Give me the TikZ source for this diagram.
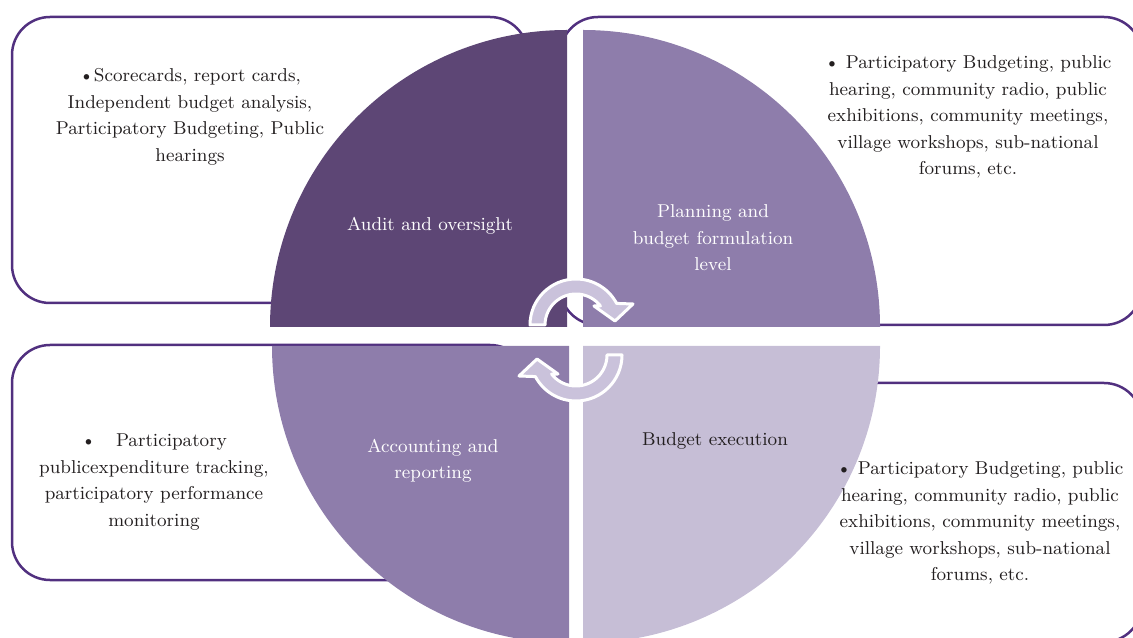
\documentclass[tikz,border=0pt]{standalone}
\usepackage{fontspec}

\definecolor{deepplum}{HTML}{5D4675}
\definecolor{midplum}{HTML}{8E7DAB}
\definecolor{paleplum}{HTML}{C6BED6}
\definecolor{boxplum}{HTML}{51307F}
\definecolor{arrowplum}{HTML}{CAC2DB}
\definecolor{inkgray}{HTML}{231F20}

\begin{document}
\begin{tikzpicture}[x=0.5pt, y=0.5pt]

\tikzstyle{every node} = [align=center, inner sep=0pt, font=\fontsize{9.3}{13.25}\selectfont]
\tikzstyle{notebox} = [draw=boxplum, line width=1.25pt, rounded corners=19pt]
\tikzstyle{notetext} = [text=inkgray]
\tikzstyle{cyclearrow} = [fill=arrowplum, draw=white, line width=1.5pt, line join=round]

\useasboundingbox (0,0) rectangle (1133,637);
\clip (0,0) rectangle (1133,637);

% boxes behind the circle
\draw[notebox] (12,334) rectangle (528,620);
\draw[notebox] (560,312) rectangle (1142,620);
\draw[notebox] (12,57) rectangle (528,292);
\draw[notebox] (600,-5) rectangle (1142,254);

% four quarters
\fill[deepplum] (567,310) -- (567,607) arc[start angle=90, end angle=180, radius=297] -- cycle;
\fill[midplum] (583,310) -- (880,310) arc[start angle=0, end angle=90, radius=297] -- cycle;
\fill[midplum] (569,291) -- (272,291) arc[start angle=180, end angle=270, radius=297] -- cycle;
\fill[paleplum] (583,291) -- (583,-6) arc[start angle=270, end angle=360, radius=297] -- cycle;

% cycle arrows
\begin{scope}[shift={(576,312)}]
\filldraw[cyclearrow] (180:46) arc[start angle=180, end angle=28, radius=46] -- (57,21) -- (39,4) -- (18,19) -- (38:31) arc[start angle=38, end angle=180, radius=31] -- cycle;
\end{scope}
\begin{scope}[rotate around={180:(576,297)}, shift={(576,312)}]
\filldraw[cyclearrow] (180:46) arc[start angle=180, end angle=28, radius=46] -- (57,21) -- (39,4) -- (18,19) -- (38:31) arc[start angle=38, end angle=180, radius=31] -- cycle;
\end{scope}

\node[text=white] (audit) at (430,411) {Audit and oversight};
\node[text=white] (planning) at (713,399) {Planning and\\budget formulation\\level};
\node[text=white] (accounting) at (433,176) {Accounting and\\reporting};
\node[notetext] (execution) at (715,196) {Budget execution};

\node[notetext] (auditnote) at (190,520) {\textbullet Scorecards, report cards,\\Independent budget analysis,\\Participatory Budgeting, Public\\hearings};
\node[notetext] (planningnote) at (968,520) {\textbullet{} Participatory Budgeting, public\\hearing, community radio, public\\exhibitions, community meetings,\\village workshops, sub-national\\forums, etc.};
\node[notetext] (accountingnote) at (154,155) {\textbullet\hspace{10pt}Participatory\\publicexpenditure tracking,\\participatory performance\\monitoring};
\node[notetext] (executionnote) at (980,114) {\textbullet{} Participatory Budgeting, public\\hearing, community radio, public\\exhibitions, community meetings,\\village workshops, sub-national\\forums, etc.};

\end{tikzpicture}
\end{document}
